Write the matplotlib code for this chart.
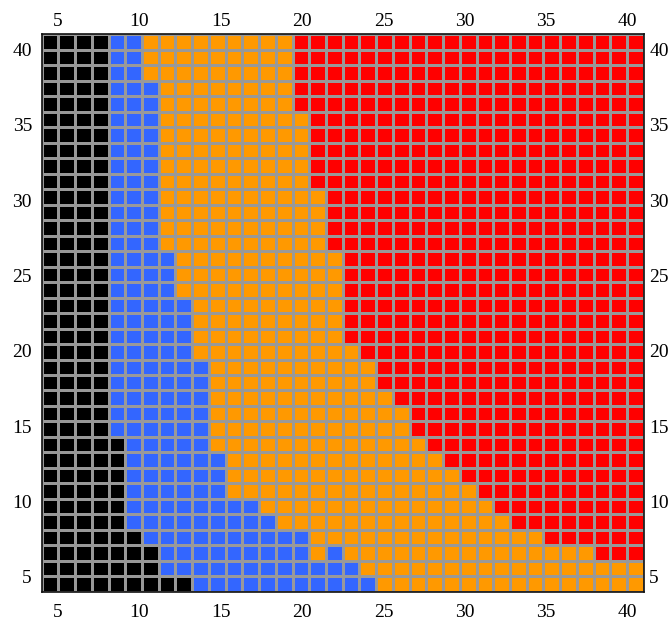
import numpy as np
import matplotlib.pyplot as plt
from matplotlib.colors import ListedColormap

# cell colours, row by row from the top row down (36 x 36 grid)
# number of black cells at the left of each row
n_black = [4, 4, 4, 4, 4, 4, 4, 4, 4, 4, 4, 4, 4, 4, 4, 4, 4, 4,
           4, 4, 4, 4, 4, 4, 4, 4, 5, 5, 5, 5, 5, 5, 6, 7, 7, 9]
# column where orange starts (blue before it)
first_orange = [6, 6, 6, 7, 7, 7, 7, 7, 7, 7, 7, 7, 7, 7, 8, 8, 8, 9,
                9, 9, 9, 10, 10, 10, 10, 10, 10, 11, 11, 11, 13, 14, 16, 16, 19, 20]
# column where red starts (36 = no red)
first_red = [15, 15, 15, 15, 15, 16, 16, 16, 16, 16, 17, 17, 17, 17, 18, 18, 18, 18,
             18, 18, 19, 20, 20, 21, 22, 22, 23, 24, 25, 26, 27, 28, 30, 33, 36, 36]
# lone blue cells inside the orange band (row, col)
extra_blue = [(33, 17)]

ticks = [5, 10, 15, 20, 25, 30, 35, 40]
colors = ['#000000', '#3366ff', '#ff9900', '#ff0000']

n = len(n_black)
Z = np.zeros((n, n), dtype=int)
for r in range(n):
    Z[r, n_black[r]:first_orange[r]] = 1
    Z[r, first_orange[r]:first_red[r]] = 2
    Z[r, first_red[r]:] = 3
for r, c in extra_blue:
    Z[r, c] = 1

edges = np.linspace(4, 41, n + 1)

fig = plt.figure(figsize=(6.72, 6.23), dpi=100)
ax = fig.add_axes([0.062, 0.050, 0.896, 0.895])
ax.pcolormesh(edges, edges, Z[::-1], cmap=ListedColormap(colors), vmin=-0.5, vmax=3.5,
              edgecolors='#999999', linewidth=1.8)
ax.set_xlim(4, 41)
ax.set_ylim(4, 41)

for s in ax.spines.values():
    s.set_linewidth(1.2)
    s.set_color('#111111')

font = dict(fontsize=14, family='Liberation Serif')
labels = [str(t) for t in ticks]

ax.set_xticks(ticks)
ax.set_yticks(ticks)
ax.set_xticklabels(labels, **font)
ax.set_yticklabels(labels, **font)
ax.tick_params(length=0)
ax.tick_params(axis='x', pad=9)
ax.tick_params(axis='y', pad=7)

top = ax.secondary_xaxis('top')
top.set_xticks(ticks)
top.set_xticklabels(labels, **font)
top.tick_params(length=0, pad=3)
right = ax.secondary_yaxis('right')
right.set_yticks(ticks)
right.set_yticklabels(labels, **font)
right.tick_params(length=0, pad=4)
for sec in (top, right):
    for s in sec.spines.values():
        s.set_visible(False)

plt.savefig('out.png', dpi=100)
